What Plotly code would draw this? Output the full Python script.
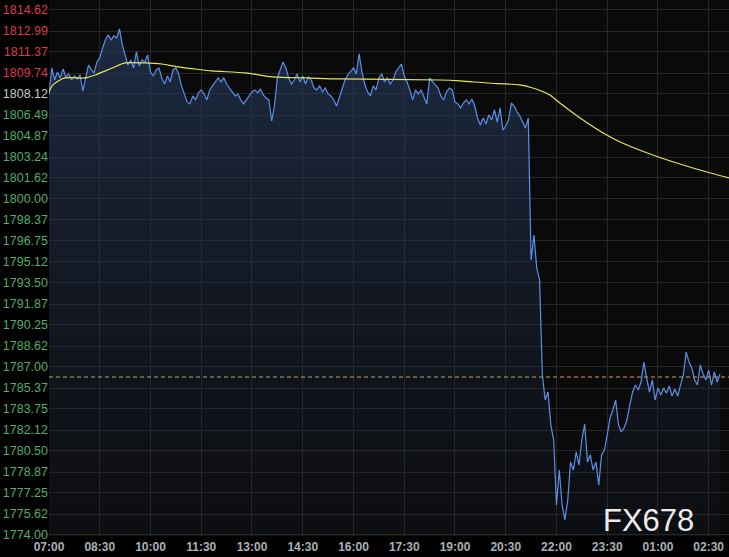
import plotly.graph_objects as go

# ---------------- data ----------------
# gold spot price, sampled every 5 minutes starting 07:00
sample_step_min = 5
price_close = [
    1808.04, 1810.13, 1809.20, 1809.82, 1809.36, 1810.05, 1809.44, 1809.67, 1809.20, 1809.51,
    1809.28, 1809.59, 1808.35, 1809.51, 1810.36, 1809.98, 1809.75, 1810.60, 1810.91, 1811.68,
    1812.30, 1812.69, 1812.30, 1812.61, 1812.45, 1813.15, 1811.91, 1811.14, 1810.36, 1810.75,
    1810.13, 1811.37, 1810.29, 1810.75, 1810.60, 1811.14, 1809.82, 1809.51, 1809.98, 1810.13,
    1809.36, 1808.89, 1809.51, 1809.05, 1809.98, 1810.13, 1809.67, 1808.74, 1808.04, 1807.50,
    1807.35, 1807.97, 1807.66, 1808.20, 1808.43, 1808.12, 1807.66, 1808.43, 1808.74, 1809.05,
    1809.36, 1809.05, 1809.36, 1808.89, 1808.58, 1808.28, 1807.97, 1808.12, 1807.66, 1807.35,
    1807.66, 1808.04, 1808.28, 1808.43, 1808.20, 1808.51, 1808.04, 1807.81, 1807.66, 1806.03,
    1807.27, 1809.36, 1809.98, 1810.60, 1810.13, 1809.36, 1808.89, 1809.20, 1809.67, 1809.05,
    1809.51, 1808.89, 1809.44, 1809.20, 1808.58, 1808.43, 1808.74, 1808.28, 1808.58, 1808.12,
    1807.97, 1807.66, 1807.19, 1807.81, 1808.58, 1809.20, 1809.59, 1809.82, 1810.13, 1809.67,
    1811.22, 1809.82, 1808.89, 1808.28, 1807.97, 1808.74, 1808.43, 1809.36, 1809.67, 1809.05,
    1809.36, 1808.89, 1809.20, 1809.82, 1810.13, 1810.44, 1809.51, 1809.05, 1808.43, 1807.66,
    1808.43, 1808.12, 1808.43, 1807.81, 1807.35, 1809.36, 1809.05, 1808.82, 1808.58, 1807.97,
    1807.66, 1808.28, 1808.58, 1808.43, 1807.50, 1807.35, 1807.04, 1807.42, 1807.66, 1807.35,
    1807.73, 1807.19, 1806.26, 1805.72, 1806.26, 1805.80, 1806.50, 1806.11, 1806.88, 1805.95,
    1807.04, 1805.33, 1805.64, 1806.11, 1807.42, 1807.19, 1806.73, 1806.42, 1805.95, 1805.49,
    1806.26, 1795.27, 1797.21, 1794.66, 1793.73, 1786.38, 1784.44, 1785.06, 1782.51, 1781.35,
    1776.32, 1779.03, 1776.32, 1775.16, 1776.70, 1779.64, 1779.03, 1780.42, 1779.41, 1781.35,
    1782.58, 1779.64, 1780.19, 1779.03, 1779.64, 1777.86, 1780.19, 1780.57, 1781.73, 1783.05,
    1783.67, 1784.44, 1782.51, 1781.97, 1782.28, 1782.89, 1784.05, 1785.06, 1785.60, 1785.22,
    1785.83, 1787.38, 1786.14, 1785.06, 1785.99, 1784.44, 1785.37, 1784.83, 1785.37, 1784.98,
    1785.53, 1784.75, 1785.29, 1784.75, 1785.60, 1786.38, 1788.16, 1787.38, 1786.92, 1785.99,
    1785.60, 1787.15, 1786.45, 1785.99, 1786.76, 1785.60, 1786.61, 1785.83, 1786.45,
]
times_min = [i * sample_step_min for i in range(len(price_close))]

# moving average (minutes after 07:00, value)
ma_times = [0, 7, 28, 64, 82, 112, 135, 170, 200, 229, 259, 289, 348, 397, 458,
            516, 693, 729, 777, 835, 858, 888, 906, 942, 977, 1013, 1066, 1119, 1154, 1206]
ma_values = [1808.28, 1808.82, 1809.36, 1809.36, 1809.59, 1810.13, 1810.52, 1810.52, 1810.44,
             1810.21, 1810.05, 1809.90, 1809.75, 1809.44, 1809.36, 1809.28, 1809.20, 1809.13,
             1808.97, 1808.82, 1808.58, 1808.04, 1807.42, 1806.26, 1805.26, 1804.41, 1803.48,
             1802.70, 1802.24, 1801.62]

last_price_level = 1786.22
ref_price = 1808.12

y_tick_vals = [1774.00, 1775.62, 1777.25, 1778.87, 1780.50, 1782.12, 1783.75, 1785.37, 1787.00,
               1788.62, 1790.25, 1791.87, 1793.50, 1795.12, 1796.75, 1798.37, 1800.00, 1801.62,
               1803.24, 1804.87, 1806.49, 1808.12, 1809.74, 1811.37, 1812.99, 1814.62]
x_tick_vals = [0, 90, 180, 270, 360, 450, 540, 630, 720, 810, 900, 990, 1080, 1170]
x_tick_text = ["07:00", "08:30", "10:00", "11:30", "13:00", "14:30", "16:00",
               "17:30", "19:00", "20:30", "22:00", "23:30", "01:00", "02:30"]

# ---------------- styling helpers ----------------
RED = "#dc3a4e"
GREEN = "#4fae68"
NEUTRAL = "#c9c9c9"


def tick_label(v):
    if abs(v - ref_price) < 0.005:
        c = NEUTRAL
    elif v > ref_price:
        c = RED
    else:
        c = GREEN
    return f'<span style="color:{c}">{v:.2f}</span>'


y_tick_text = [tick_label(v) for v in y_tick_vals]

fig = go.Figure()

fig.add_trace(go.Scatter(
    x=times_min, y=price_close, mode="lines",
    line=dict(color="#5b8fe6", width=1.2),
    fill="tozeroy",
    fillgradient=dict(type="vertical",
                      colorscale=[[0, "rgba(30,40,60,0.12)"], [1, "rgba(40,62,100,0.6)"]],
                      start=1774, stop=1812),
    hoverinfo="skip", showlegend=False,
))

fig.add_trace(go.Scatter(
    x=ma_times, y=ma_values, mode="lines",
    line=dict(color="#e6e65c", width=1.2, shape="spline", smoothing=0.8),
    hoverinfo="skip", showlegend=False,
))

fig.add_shape(type="line", xref="paper", x0=0, x1=1, yref="y",
              y0=last_price_level, y1=last_price_level,
              line=dict(color="#d99a62", width=1, dash="4px,3px"))

fig.add_annotation(text="FX678", xref="paper", yref="paper", x=0.882, y=0.028,
                   xanchor="center", yanchor="middle", showarrow=False,
                   font=dict(family="Liberation Sans, Arial", size=31, color="#ececec"))

fig.update_layout(
    width=729, height=557,
    margin=dict(l=49, r=0, t=0, b=21),
    paper_bgcolor="#000000",
    plot_bgcolor="#0a0a0a",
    font=dict(family="Liberation Sans, Arial", size=12, color="#b0b0b0"),
)

fig.update_xaxes(
    range=[0, 1206], tickvals=x_tick_vals, ticktext=x_tick_text,
    showgrid=True, gridcolor="#262626", gridwidth=1,
    zeroline=False, showline=False, ticks="",
    ticklabelstandoff=2,
    tickfont=dict(size=12, color="#aab0b6", weight="bold"),
    automargin=False, fixedrange=True,
)
fig.update_yaxes(
    range=[1773.92, 1815.39], tickvals=y_tick_vals, ticktext=y_tick_text,
    showgrid=True, gridcolor="#262626", gridwidth=1,
    zeroline=False, showline=False, ticks="",
    tickfont=dict(size=12.5),
    automargin=False, fixedrange=True,
)

fig.write_html(
    "out.html",
    config={"displayModeBar": False},
    post_script="document.body.style.margin='0';document.body.style.overflow='hidden';document.body.style.background='#000';",
)
